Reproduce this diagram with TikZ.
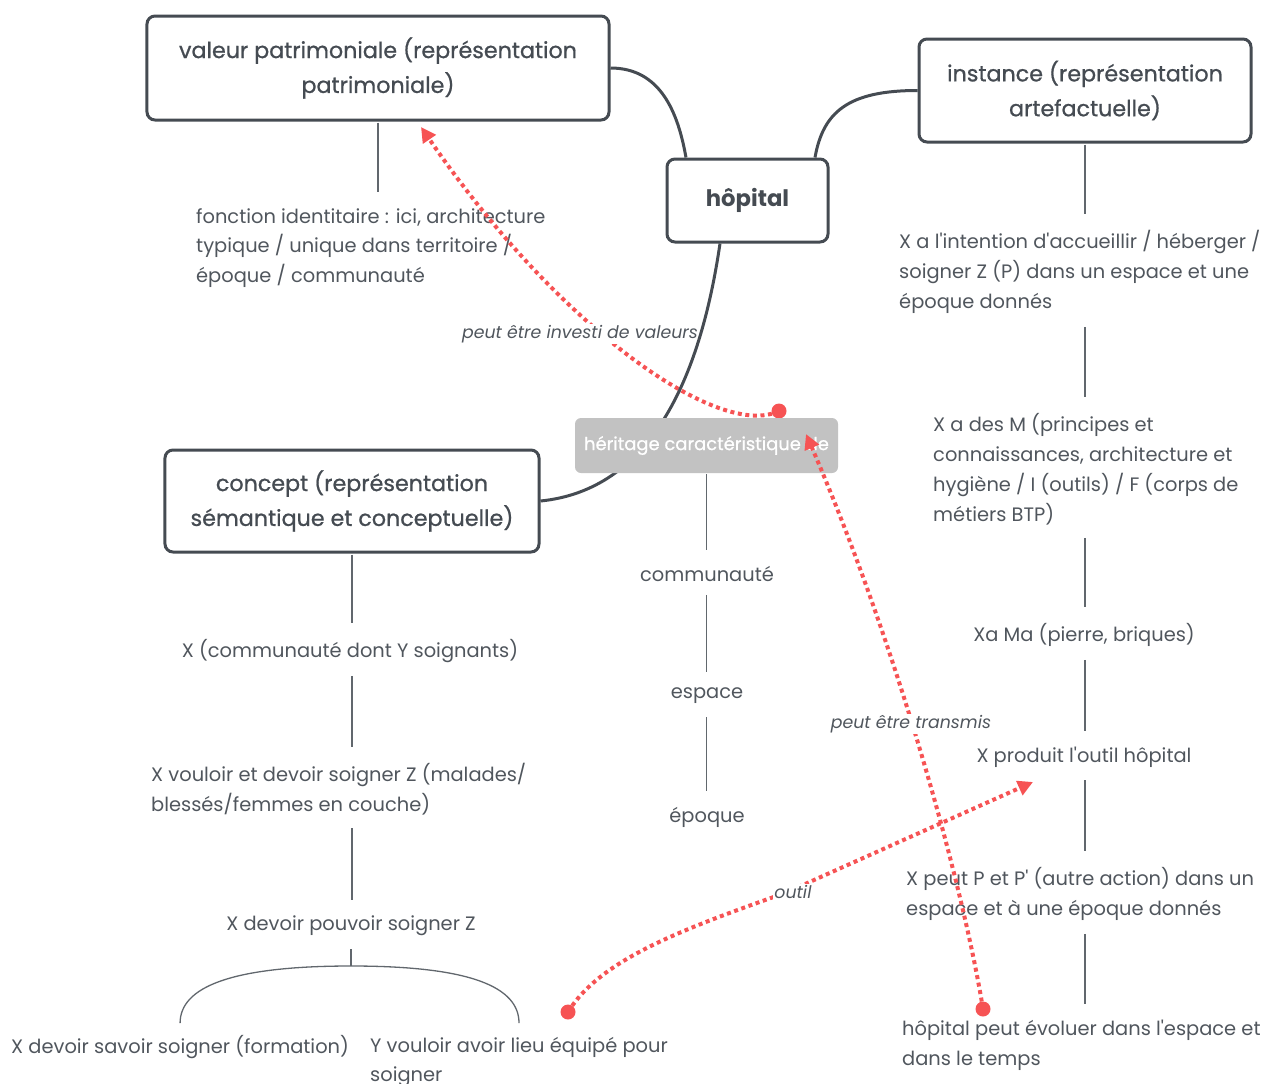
\documentclass[tikz,border=0pt]{standalone}
\usepackage{fontspec}
\setmainfont{Poppins}[Ligatures=TeXOff]
\newfontfamily\medfont{Poppins}[FakeBold=0.8, Ligatures=TeXOff]
\usetikzlibrary{arrows.meta,calc}
\definecolor{ink}{HTML}{50565D}
\definecolor{boxc}{HTML}{454B52}
\definecolor{redd}{HTML}{F65354}
\definecolor{greyb}{HTML}{C2C2C2}
\begin{document}
\begin{tikzpicture}[x=1bp,y=-1bp,
  topic/.style={draw=boxc, line width=3bp, rounded corners=8bp, fill=white, text=boxc,
    font=\medfont\fontsize{22.3}{35}\selectfont, align=center, inner sep=0pt},
  leaf/.style={text=ink, font=\fontsize{19.5}{30}\selectfont, inner sep=0pt, align=left},
  branch/.style={draw=ink!90, line width=1.3bp, shorten <=13bp, shorten >=16bp},
  mainlink/.style={draw=boxc, line width=3bp},
  redarr/.style={draw=redd, line width=4bp, dash pattern=on 4bp off 3.6bp,
    -{Triangle[length=15bp,width=15bp]}},
  reddot/.style={circle, fill=redd, inner sep=0pt, minimum size=15bp},
  lab/.style={text=ink, font=\fontsize{17.4}{20}\selectfont\itshape, fill=white, inner sep=1bp}
]
\useasboundingbox (0,0) rectangle (1267,1084);

% main topics
\node[topic, minimum width=462bp, minimum height=104bp] (valeur) at (378,68)
  {valeur patrimoniale (représentation\\patrimoniale)};
\node[topic, minimum width=161bp, minimum height=83bp, font=\fontsize{22.8}{26}\selectfont\bfseries] (hop) at (747.5,200.5) {hôpital};
\node[topic, minimum width=332bp, minimum height=103bp] (inst) at (1085,90.5)
  {instance (représentation\\artefactuelle)};
\node[topic, minimum width=374bp, minimum height=102bp] (con) at (352,501)
  {concept (représentation\\sémantique et conceptuelle)};

% main links
\draw[mainlink] (valeur.east) .. controls +(50,0) and +(-8,-45) .. ([xshift=-61.5bp]hop.north);
\draw[mainlink] (inst.west) .. controls +(-70,0) and +(8,-45) .. ([xshift=67.5bp]hop.north);

% leaves
\node[leaf, anchor=west] (f1) at (196,248)
  {fonction identitaire : ici, architecture\\typique / unique dans territoire /\\époque / communauté};
\node[leaf, anchor=west] (i1) at (899,272)
  {X a l'intention d'accueillir / héberger /\\soigner Z (P) dans un espace et une\\époque donnés};
\node[leaf, anchor=west] (i2) at (933,469)
  {X a des M (principes et\\connaissances, architecture et\\hygiène / I (outils) / F (corps de\\métiers BTP)};
\node[leaf] (i3) at (1084,635) {Xa Ma (pierre, briques)};
\node[leaf] (i4) at (1084,757) {X produit l'outil hôpital};
\node[leaf, anchor=west] (i5) at (906,894)
  {X peut P et P' (autre action) dans un\\espace et à une époque donnés};
\node[leaf, anchor=west] (i6) at (902,1045)
  {hôpital peut évoluer dans l'espace et\\dans le temps};
\node[leaf] (h1) at (707,574) {communauté};
\node[leaf] (h2) at (707,696) {espace};
\node[leaf] (h3) at (707,817) {époque};
\node[leaf] (c1) at (350,651) {X (communauté dont Y soignants)};
\node[leaf, anchor=west] (c2) at (151,789)
  {X vouloir et devoir soigner Z (malades/\\blessés/femmes en couche)};
\node[leaf] (c3) at (351,926) {X devoir pouvoir soigner Z};
\node[leaf, anchor=west] (c4) at (11,1047) {X devoir savoir soigner (formation)};
\node[leaf, anchor=west] (c5) at (370,1062) {Y vouloir avoir lieu équipé pour\\soigner};

% branches
\draw[branch, shorten <=1bp] (valeur.south) -- (valeur.south |- f1.north);
\draw[branch, shorten <=1bp] (inst.south) -- (inst.south |- i1.north);
\draw[branch] (i1.south -| inst.south) -- (i2.north -| inst.south);
\draw[branch] (i2.south -| inst.south) -- (i3.north -| inst.south);
\draw[branch] (i3.south -| inst.south) -- (i4.north -| inst.south);
\draw[branch] (i4.south -| inst.south) -- (i5.north -| inst.south);
\draw[branch] (i5.south -| inst.south) -- (i6.north -| inst.south);
\draw[branch, shorten <=1bp] (con.south) -- (con.south |- c1.north);
\draw[branch] (c1.south -| con.south) -- (c2.north -| con.south);
\draw[branch] (c2.south -| con.south) -- (c3.north -| con.south);
\coordinate (brk) at (351,966);
\draw[branch, shorten >=0bp] (c3.south) -- (brk);
\draw[draw=ink!90, line width=1.3bp, shorten <=12bp, shorten >=12bp]
  (c4.north) .. controls +(0,-48) and +(-120,0) .. (brk)
  .. controls +(120,0) and +(0,-48) .. (c5.north |- c4.north);

% red dotted arrows (below héritage)
\coordinate (t1) at (421,127);
\coordinate (t3) at (1033,782);
\node[reddot] (d1) at (779,411) {};
\node[reddot] (d3) at (568,1012) {};
\draw[redarr] (d1.center) .. controls (720,440) and (560,330) .. (t1);
\draw[redarr] (d3.center) .. controls (600,960) and (680,930) .. (785,893) -- (t3);
\node[lab] (l1) at (580,334) {peut être investi de valeurs};
\node[lab] (l3) at (793,892) {outil};

% hôpital to concept
\draw[mainlink] ([xshift=-27.5bp]hop.south) .. controls (700,380) and (650,490) .. (con.east);

% héritage
\node[fill=greyb, rounded corners=6bp, minimum width=263bp, minimum height=55bp, inner sep=0pt,
  text=white, font=\medfont\fontsize{18}{20}\selectfont] (her) at (706.5,445.5) {héritage caractéristique de};
\draw[branch, shorten <=1bp] (her.south) -- (her.south |- h1.north);
\draw[branch] (h1.south -| her.south) -- (h2.north -| her.south);
\draw[branch] (h2.south -| her.south) -- (h3.north -| her.south);

% arrow over héritage
\coordinate (t2) at (806,434);
\node[reddot] (d2) at (983,1009) {};
\draw[redarr] (d2.center) .. controls (962,880) and (895,640) .. (t2);
\node[lab] (l2) at (911,724) {peut être transmis};
\end{tikzpicture}
\end{document}
